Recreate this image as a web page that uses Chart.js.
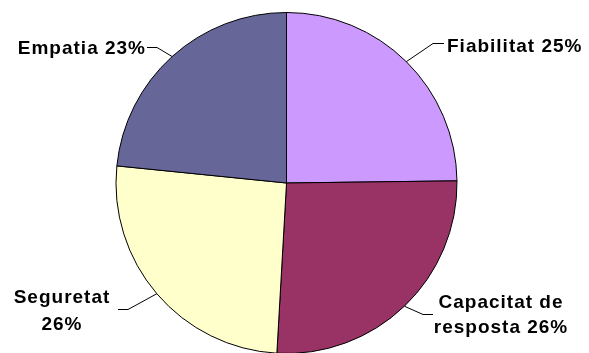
<!DOCTYPE html>
<html>
<head>
<meta charset="utf-8">
<script src="https://cdn.jsdelivr.net/npm/chart.js@4"></script>
<style>
  html, body { margin: 0; padding: 0; background: #fff; overflow: hidden; }
  canvas { display: block; }
</style>
</head>
<body>
<canvas id="pie" width="589" height="360"></canvas>
<script>
// values (shares of the pie, percent)
const categories = ['Fiabilitat', 'Capacitat de resposta', 'Seguretat', 'Empatia'];
const values = [24.8, 26.1, 25.7, 23.4];
const colors = ['#CC99FF', '#993366', '#FFFFCC', '#666699'];

// where each label sits and how its text is broken
const labelLayout = [
  { lines: (n, p) => [n + ' ' + p], elbow: [433, 43], end: [444, 43], x: 447, y: [52], align: 'left' },
  { lines: (n, p) => ['Capacitat de', 'resposta ' + p], elbow: [423, 314], end: [433, 314], x: 501, y: [308, 333], align: 'center' },
  { lines: (n, p) => [n, p], elbow: [128, 309], end: [118, 309], x: 62, y: [303, 330], align: 'center' },
  { lines: (n, p) => [n + ' ' + p], elbow: [157, 47], end: [147, 47], x: 146, y: [54], align: 'right' }
];

const leaderLabels = {
  id: 'leaderLabels',
  afterDatasetsDraw(chart) {
    const ctx = chart.ctx;
    const arcs = chart.getDatasetMeta(0).data;
    ctx.save();
    ctx.font = 'bold 19px "Liberation Sans", Arial, sans-serif';
    if ('letterSpacing' in ctx) ctx.letterSpacing = '1px';
    ctx.fillStyle = '#000';
    ctx.strokeStyle = '#000';
    ctx.lineWidth = 1;
    arcs.forEach((arc, i) => {
      const L = labelLayout[i];
      const mid = (arc.startAngle + arc.endAngle) / 2;
      const ax = arc.x + Math.cos(mid) * arc.outerRadius;
      const ay = arc.y + Math.sin(mid) * arc.outerRadius;
      ctx.beginPath();
      ctx.moveTo(ax, ay);
      ctx.lineTo(L.elbow[0], L.elbow[1] + 0.5);
      ctx.lineTo(L.end[0], L.end[1] + 0.5);
      ctx.stroke();
      const pct = Math.round(values[i]) + '%';
      const lines = L.lines(categories[i], pct);
      ctx.textAlign = L.align;
      ctx.textBaseline = 'alphabetic';
      lines.forEach((t, k) => ctx.fillText(t, L.x, L.y[k]));
    });
    ctx.restore();
  }
};

new Chart(document.getElementById('pie'), {
  type: 'pie',
  data: {
    labels: categories,
    datasets: [{
      data: values,
      backgroundColor: colors,
      borderColor: '#000',
      borderWidth: 1
    }]
  },
  options: {
    responsive: false,
    animation: false,
    layout: { padding: { left: 115, right: 131, top: 12, bottom: 6 } },
    plugins: {
      legend: { display: false },
      tooltip: { enabled: false }
    }
  },
  plugins: [leaderLabels]
});
</script>
</body>
</html>
